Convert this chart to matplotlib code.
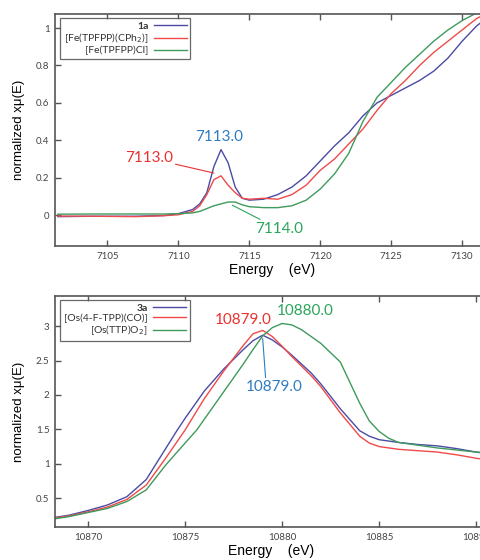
import matplotlib
matplotlib.use("Agg")
import matplotlib.pyplot as plt

# --- Fe K-edge (top panel) ---
fe_energy = [7101.5, 7104, 7107, 7109, 7110, 7111, 7111.5, 7112, 7112.5, 7113, 7113.5,
             7114, 7114.5, 7115, 7116, 7117, 7118, 7119, 7120, 7121, 7122, 7123, 7124,
             7125, 7126, 7127, 7128, 7129, 7130, 7131, 7132]
fe_1a = [-0.008, -0.006, -0.006, -0.002, 0.008, 0.03, 0.06, 0.12, 0.26, 0.35, 0.28,
         0.15, 0.09, 0.08, 0.085, 0.11, 0.15, 0.21, 0.29, 0.37, 0.44, 0.53, 0.60,
         0.64, 0.68, 0.72, 0.77, 0.84, 0.93, 1.01, 1.07]
fe_cph2 = [-0.005, -0.006, -0.008, -0.003, 0.002, 0.02, 0.05, 0.11, 0.19, 0.21, 0.16,
           0.12, 0.09, 0.085, 0.09, 0.085, 0.11, 0.16, 0.24, 0.30, 0.38, 0.46, 0.56,
           0.65, 0.72, 0.80, 0.87, 0.93, 0.99, 1.05, 1.09]
fe_cl = [0.005, 0.006, 0.006, 0.006, 0.008, 0.012, 0.02, 0.035, 0.05, 0.06, 0.07,
         0.07, 0.055, 0.045, 0.04, 0.04, 0.05, 0.08, 0.14, 0.22, 0.33, 0.50, 0.63,
         0.71, 0.79, 0.86, 0.93, 0.99, 1.04, 1.08, 1.10]

# --- Os L3-edge (bottom panel) ---
os_energy_blue = [10868.3, 10869, 10870, 10871, 10872, 10873, 10874, 10874.6, 10875, 10876,
                  10877, 10878, 10878.5, 10879, 10879.5, 10880, 10880.5, 10881, 10881.5,
                  10882, 10883, 10884, 10884.5, 10885, 10886, 10887, 10888, 10889, 10890, 10890.5]
os_3a = [0.22, 0.25, 0.32, 0.40, 0.52, 0.77, 1.22, 1.49, 1.66, 2.06, 2.38, 2.66, 2.79, 2.87,
         2.80, 2.70, 2.58, 2.45, 2.32, 2.16, 1.80, 1.48, 1.40, 1.35, 1.31, 1.28, 1.26, 1.22,
         1.17, 1.15]
os_energy_red = [10868.3, 10869, 10870, 10871, 10872, 10873, 10874, 10875, 10876, 10877,
                 10878, 10878.5, 10879, 10879.5, 10880, 10880.5, 10881, 10881.5, 10882,
                 10883, 10884, 10884.5, 10885, 10886, 10887, 10888, 10889, 10890, 10890.5]
os_co = [0.21, 0.24, 0.30, 0.37, 0.48, 0.69, 1.08, 1.49, 1.95, 2.35, 2.72, 2.89, 2.94,
         2.85, 2.71, 2.56, 2.42, 2.28, 2.12, 1.74, 1.40, 1.30, 1.25, 1.21, 1.19, 1.17,
         1.13, 1.08, 1.06]
os_energy_green = [10868.3, 10869, 10870, 10871, 10872, 10873, 10874, 10875, 10875.6, 10876,
                   10877, 10878, 10878.5, 10879, 10879.5, 10880, 10880.5, 10881, 10882,
                   10883, 10884, 10884.5, 10885, 10885.5, 10886, 10887, 10888, 10889,
                   10890, 10890.5]
os_o2 = [0.20, 0.23, 0.29, 0.35, 0.45, 0.62, 0.98, 1.30, 1.49, 1.65, 2.05, 2.45, 2.66,
         2.86, 2.98, 3.04, 3.02, 2.95, 2.75, 2.48, 1.88, 1.62, 1.47, 1.37, 1.31, 1.27,
         1.23, 1.20, 1.17, 1.16]

BLUE = "#4b4ba6"
RED = "#ee4a4a"
GREEN = "#3f9a5c"
TXT_BLUE = "#2f7cc0"
TXT_RED = "#e8312f"
TXT_GREEN = "#2aa65a"

plt.rcParams["font.family"] = ["Lato", "DejaVu Sans"]

fig = plt.figure(figsize=(4.81, 5.60), dpi=100)
ax1 = fig.add_axes([55 / 481, 314 / 560, 428.5 / 481, 232 / 560])
ax2 = fig.add_axes([55 / 481, 33 / 560, 427 / 481, 231 / 560])


def style_axes(ax):
    for side in ["left", "bottom", "top"]:
        ax.spines[side].set_color("#555555")
        ax.spines[side].set_linewidth(1.2)
    ax.spines["right"].set_visible(False)
    ax.tick_params(direction="in", length=4, width=1, color="#555555",
                   top=True, right=False, labelsize=7, labelcolor="#444444", pad=4)
    ax.set_xlabel("Energy    (eV)", fontsize=10, family=["Liberation Sans", "DejaVu Sans"])
    ax.set_ylabel("normalized x\u03bc(E)", fontsize=9.5, family=["Liberation Sans", "DejaVu Sans"])
    ax.yaxis.set_label_coords(-0.07, 0.5)
    ax.xaxis.set_label_coords((272 - 55) / 428, -0.075)


def add_legend(ax, labels):
    leg = ax.legend(labels, loc="upper left", bbox_to_anchor=(0.012, 0.982),
                    markerfirst=False, fancybox=False, fontsize=7.5, handlelength=3.2,
                    borderpad=0.35, labelspacing=0.05, handletextpad=0.5,
                    borderaxespad=0)
    leg.get_frame().set_edgecolor("#444444")
    leg.get_frame().set_linewidth(0.9)
    leg.get_texts()[0].set_fontweight("bold")
    for t in leg.get_texts():
        t.set_color("#333333")


# top panel
ax1.plot(fe_energy, fe_1a, color=BLUE, lw=1)
ax1.plot(fe_energy, fe_cph2, color=RED, lw=1)
ax1.plot(fe_energy, fe_cl, color=GREEN, lw=1)
ax1.set_xlim(7101.3, 7131.5)
ax1.set_ylim(-0.165, 1.075)
ax1.set_xticks([7105, 7110, 7115, 7120, 7125, 7130])
ax1.set_yticks([0, 0.2, 0.4, 0.6, 0.8, 1])
ax1.set_yticklabels(["0", "0.2", "0.4", "0.6", "0.8", "1"])
style_axes(ax1)
add_legend(ax1, ["1a", "[Fe(TPFPP)(CPh$_2$)]", "[Fe(TPFPP)Cl]"])

ax1.text(7112.9, 0.415, "7113.0", color=TXT_BLUE, fontsize=11, ha="center", va="center")
ax1.annotate("7113.0", xy=(7112.5, 0.225), xytext=(7107.9, 0.305), color=TXT_RED,
             fontsize=11, ha="center", va="center",
             arrowprops=dict(arrowstyle="-", color=TXT_RED, lw=0.8, shrinkA=0, shrinkB=0))
ax1.annotate("7114.0", xy=(7113.8, 0.053), xytext=(7117.1, -0.075), color=TXT_GREEN,
             fontsize=11, ha="center", va="center",
             arrowprops=dict(arrowstyle="-", color=TXT_GREEN, lw=0.8, shrinkA=0, shrinkB=0))

# bottom panel
ax2.plot(os_energy_blue, os_3a, color=BLUE, lw=1)
ax2.plot(os_energy_red, os_co, color=RED, lw=1)
ax2.plot(os_energy_green, os_o2, color=GREEN, lw=1)
ax2.set_xlim(10868.3, 10890.3)
ax2.set_ylim(0.08, 3.44)
ax2.set_xticks([10870, 10875, 10880, 10885, 10890])
ax2.set_yticks([0.5, 1, 1.5, 2, 2.5, 3])
ax2.set_yticklabels(["0.5", "1", "1.5", "2", "2.5", "3"])
style_axes(ax2)
add_legend(ax2, ["3a", "[Os(4-F-TPP)(CO)]", "[Os(TTP)O$_2$]"])

ax2.text(10878.0, 3.09, "10879.0", color=TXT_RED, fontsize=11, ha="center", va="center")
ax2.text(10881.2, 3.22, "10880.0", color=TXT_GREEN, fontsize=11, ha="center", va="center")
ax2.annotate("10879.0", xy=(10879.0, 2.82), xytext=(10879.6, 2.11), color=TXT_BLUE,
             fontsize=11, ha="center", va="center",
             arrowprops=dict(arrowstyle="-", color=TXT_BLUE, lw=0.8, shrinkA=0, shrinkB=0,
                             relpos=(0.35, 1.0)))

fig.savefig("out.png", dpi=100)
